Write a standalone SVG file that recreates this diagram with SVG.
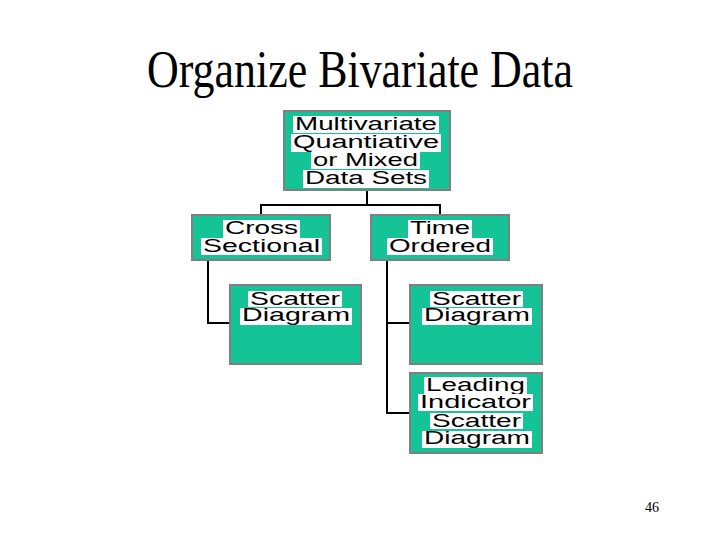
<svg xmlns="http://www.w3.org/2000/svg" width="720" height="540" viewBox="0 0 720 540">
<style>
.box{fill:#14C497;stroke:#808080;stroke-width:2}
.hl{fill:#ffffff}
.t{font-family:"Liberation Sans",Arial,sans-serif;font-size:18px;fill:#000}
.conn{fill:none;stroke:#000;stroke-width:2}
.title{font-family:"Liberation Serif","Times New Roman",serif;font-size:44px;fill:#000}
.num{font-family:"Liberation Serif","Times New Roman",serif;font-size:14px;fill:#000}
</style>
<rect width="720" height="540" fill="#ffffff"/>
<text class="title" x="147" y="73.7" transform="scale(1,1.18)" textLength="426" lengthAdjust="spacingAndGlyphs">Organize Bivariate Data</text>
<g id="connectors">
<path class="conn" d="M367 191 V205 M261 205 H441 M261 204 V215 M440 204 V215"/>
<path class="conn" d="M208 260 V323 H229"/>
<path class="conn" d="M387 260 V413 H409 M387 323 H409"/>
</g>
<g id="n_root">
<rect class="box" x="284" y="111" width="166" height="79"/>
<rect class="hl" x="293" y="116" width="146" height="17"/>
<text class="t" x="295" y="130" textLength="142" lengthAdjust="spacingAndGlyphs">Multivariate</text>
<rect class="hl" x="291" y="134" width="150" height="18"/>
<text class="t" x="293" y="148" textLength="146" lengthAdjust="spacingAndGlyphs">Quantiative</text>
<rect class="hl" x="311" y="152" width="109" height="17"/>
<text class="t" x="313" y="166" textLength="105" lengthAdjust="spacingAndGlyphs">or Mixed</text>
<rect class="hl" x="303" y="170" width="126" height="18"/>
<text class="t" x="305" y="184" textLength="122" lengthAdjust="spacingAndGlyphs">Data Sets</text>
</g>
<g id="n_cross">
<rect class="box" x="192" y="215" width="138" height="45"/>
<rect class="hl" x="223" y="220" width="77" height="18"/>
<text class="t" x="225" y="234" textLength="73" lengthAdjust="spacingAndGlyphs">Cross</text>
<rect class="hl" x="201" y="238" width="121" height="17"/>
<text class="t" x="203" y="252" textLength="117" lengthAdjust="spacingAndGlyphs">Sectional</text>
</g>
<g id="n_time">
<rect class="box" x="371" y="215" width="138" height="45"/>
<rect class="hl" x="408" y="220" width="64" height="18"/>
<text class="t" x="410" y="234" textLength="60" lengthAdjust="spacingAndGlyphs">Time</text>
<rect class="hl" x="387" y="238" width="106" height="17"/>
<text class="t" x="389" y="252" textLength="102" lengthAdjust="spacingAndGlyphs">Ordered</text>
</g>
<g id="n_scatter1">
<rect class="box" x="230" y="285" width="131" height="79"/>
<rect class="hl" x="248" y="291" width="94" height="16"/>
<text class="t" x="250" y="305" textLength="90" lengthAdjust="spacingAndGlyphs">Scatter</text>
<rect class="hl" x="240" y="308" width="112" height="17"/>
<text class="t" x="242" y="321" textLength="108" lengthAdjust="spacingAndGlyphs">Diagram</text>
</g>
<g id="n_scatter2">
<rect class="box" x="410" y="285" width="132" height="79"/>
<rect class="hl" x="430" y="291" width="93" height="16"/>
<text class="t" x="432" y="305" textLength="89" lengthAdjust="spacingAndGlyphs">Scatter</text>
<rect class="hl" x="422" y="308" width="110" height="17"/>
<text class="t" x="424" y="321" textLength="106" lengthAdjust="spacingAndGlyphs">Diagram</text>
</g>
<g id="n_leading">
<rect class="box" x="410" y="373" width="132" height="80"/>
<rect class="hl" x="424" y="377" width="103" height="17"/>
<text class="t" x="426" y="391" textLength="99" lengthAdjust="spacingAndGlyphs">Leading</text>
<rect class="hl" x="418" y="394" width="115" height="17"/>
<text class="t" x="420" y="408" textLength="111" lengthAdjust="spacingAndGlyphs">Indicator</text>
<rect class="hl" x="430" y="413" width="93" height="16"/>
<text class="t" x="432" y="427" textLength="89" lengthAdjust="spacingAndGlyphs">Scatter</text>
<rect class="hl" x="422" y="431" width="110" height="17"/>
<text class="t" x="424" y="444" textLength="106" lengthAdjust="spacingAndGlyphs">Diagram</text>
</g>
<text class="num" x="645" y="512">46</text>
</svg>
